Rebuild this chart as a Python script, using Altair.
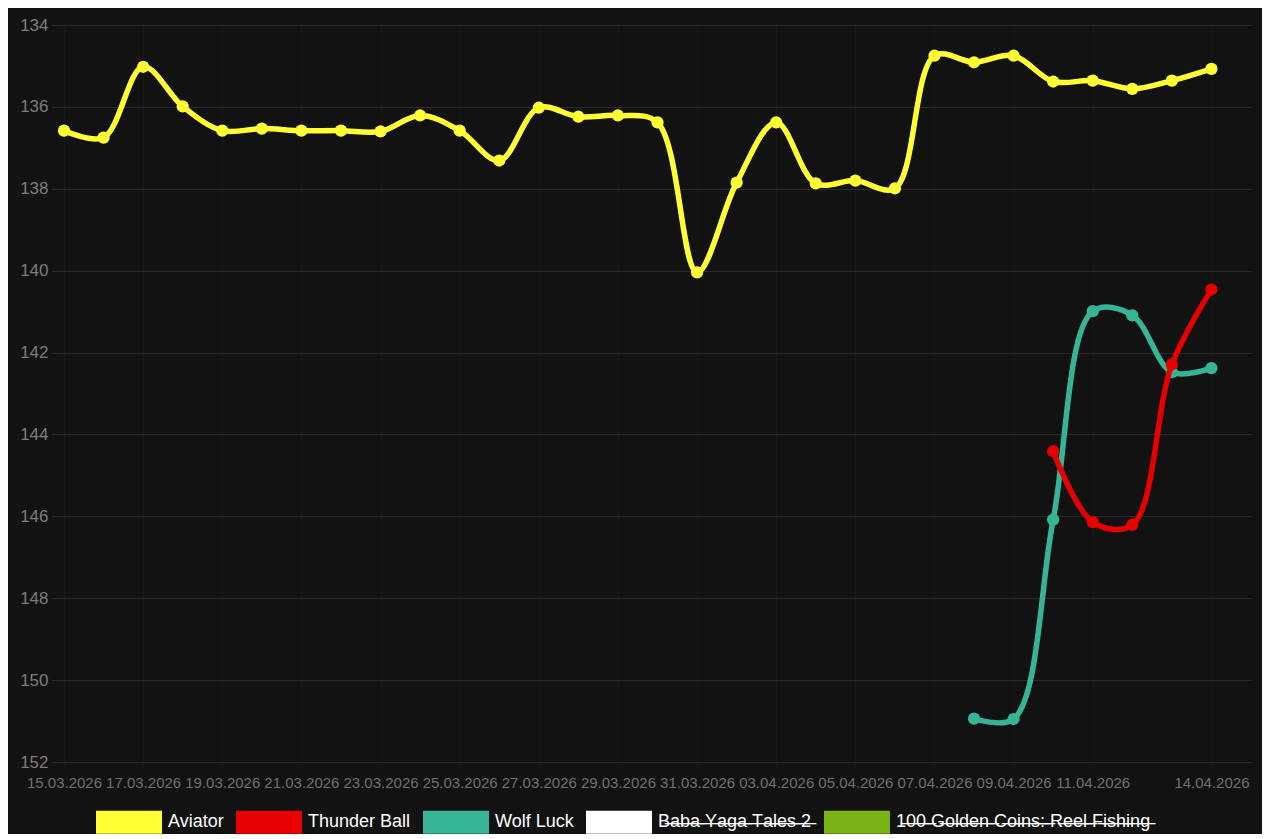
import altair as alt
import pandas as pd

# ---- data ----
dates = [
    "15.03.2026", "16.03.2026", "17.03.2026", "18.03.2026", "19.03.2026",
    "20.03.2026", "21.03.2026", "22.03.2026", "23.03.2026", "24.03.2026",
    "25.03.2026", "26.03.2026", "27.03.2026", "28.03.2026", "29.03.2026",
    "30.03.2026", "31.03.2026", "01.04.2026", "03.04.2026", "04.04.2026",
    "05.04.2026", "06.04.2026", "07.04.2026", "08.04.2026", "09.04.2026",
    "10.04.2026", "11.04.2026", "12.04.2026", "13.04.2026", "14.04.2026",
]
axis_end = ["15.04.2026"]
tick_labels = [
    "15.03.2026", "17.03.2026", "19.03.2026", "21.03.2026", "23.03.2026",
    "25.03.2026", "27.03.2026", "29.03.2026", "31.03.2026", "03.04.2026",
    "05.04.2026", "07.04.2026", "09.04.2026", "11.04.2026", "14.04.2026",
]
y_ticks = [134, 136, 138, 140, 142, 144, 146, 148, 150, 152]

aviator = [
    136.58, 136.75, 135.02, 135.99, 136.58, 136.53, 136.58, 136.58, 136.60, 136.21,
    136.58, 137.31, 136.02, 136.24, 136.21, 136.38, 140.04, 137.85, 136.38, 137.87,
    137.80, 137.99, 134.75, 134.91, 134.75, 135.38, 135.36, 135.56, 135.36, 135.07,
]
thunder_ball = [None] * 25 + [144.41, 146.14, 146.21, 142.29, 140.46]
wolf_luck = [None] * 23 + [150.94, 150.95, 146.08, 140.99, 141.09, 142.48, 142.38]

series_names = ["Aviator", "Thunder Ball", "Wolf Luck", "Baba Yaga Tales 2",
                "100 Golden Coins: Reel Fishing"]
series_colors = ["#ffff33", "#e60000", "#36b496", "#ffffff", "#7bb316"]
series_hidden = [False, False, False, True, True]


def strike(s):
    return "".join(ch + "\u0336" for ch in s)


legend_labels = [strike(n) if h else n for n, h in zip(series_names, series_hidden)]

visible = [("Aviator", aviator), ("Thunder Ball", thunder_ball), ("Wolf Luck", wolf_luck)]

color_scale = alt.Scale(domain=legend_labels, range=series_colors)

x_enc = alt.X(
    "date:O",
    scale=alt.Scale(type="point", domain=dates + axis_end, padding=0),
    axis=alt.Axis(
        values=tick_labels, labelAngle=0, title=None, grid=True,
        gridColor="#171717", domain=False, tickColor="#171717", tickSize=8,
        labelColor="#707070", labelFontSize=15, labelFont="Liberation Sans",
        labelPadding=5, labelOverlap=False, labelFlush=False,
    ),
)
y_enc = alt.Y(
    "value:Q",
    scale=alt.Scale(domain=[134, 152], reverse=True, nice=False, zero=False),
    axis=alt.Axis(
        values=y_ticks, title=None, grid=True, gridColor="#2a2a2a",
        domain=False, tickColor="#2a2a2a", tickSize=13, labelPadding=3,
        labelFontSize=17, labelFont="Liberation Sans", labelColor="#7d7d7d",
    ),
)

legend = alt.Legend(
    title=None, orient="none", legendX=32, legendY=764, direction="horizontal",
    columns=5, symbolType="M-1,-0.35H1V0.35H-1Z", symbolSize=66 * 66,
    symbolStrokeWidth=0, symbolOpacity=1,
    labelFont="Liberation Sans", labelFontSize=18, labelColor="#ffffff",
    labelOffset=6, columnPadding=12, padding=0, labelLimit=0,
)

layers = []
# chart.js draws the first dataset on top: draw in reverse order
for name, vals in reversed(visible):
    rows = [
        {"date": d, "idx": i, "value": v, "series": name}
        for i, (d, v) in enumerate(zip(dates, vals)) if v is not None
    ]
    df = pd.DataFrame(rows)
    base = alt.Chart(df)
    line = base.mark_line(
        interpolate="catmull-rom", strokeWidth=5.5, strokeCap="round",
        strokeJoin="round"
    ).encode(
        x=x_enc, y=y_enc, order=alt.Order("idx:Q"),
        color=alt.Color("series:N", scale=color_scale, legend=legend),
    )
    pts = base.mark_circle(size=150, opacity=1).encode(
        x=x_enc, y=y_enc,
        color=alt.Color("series:N", scale=color_scale, legend=legend),
    )
    layers += [line, pts]

chart = alt.layer(*layers).properties(
    width=1187, height=737,
    padding={"left": 56, "top": 17, "right": 11, "bottom": 72},
    autosize=alt.AutoSizeParams(type="none"),
    background="#121212",
).configure_view(stroke=None)

chart.save("out.html", embed_options={"renderer": "svg", "actions": False})
